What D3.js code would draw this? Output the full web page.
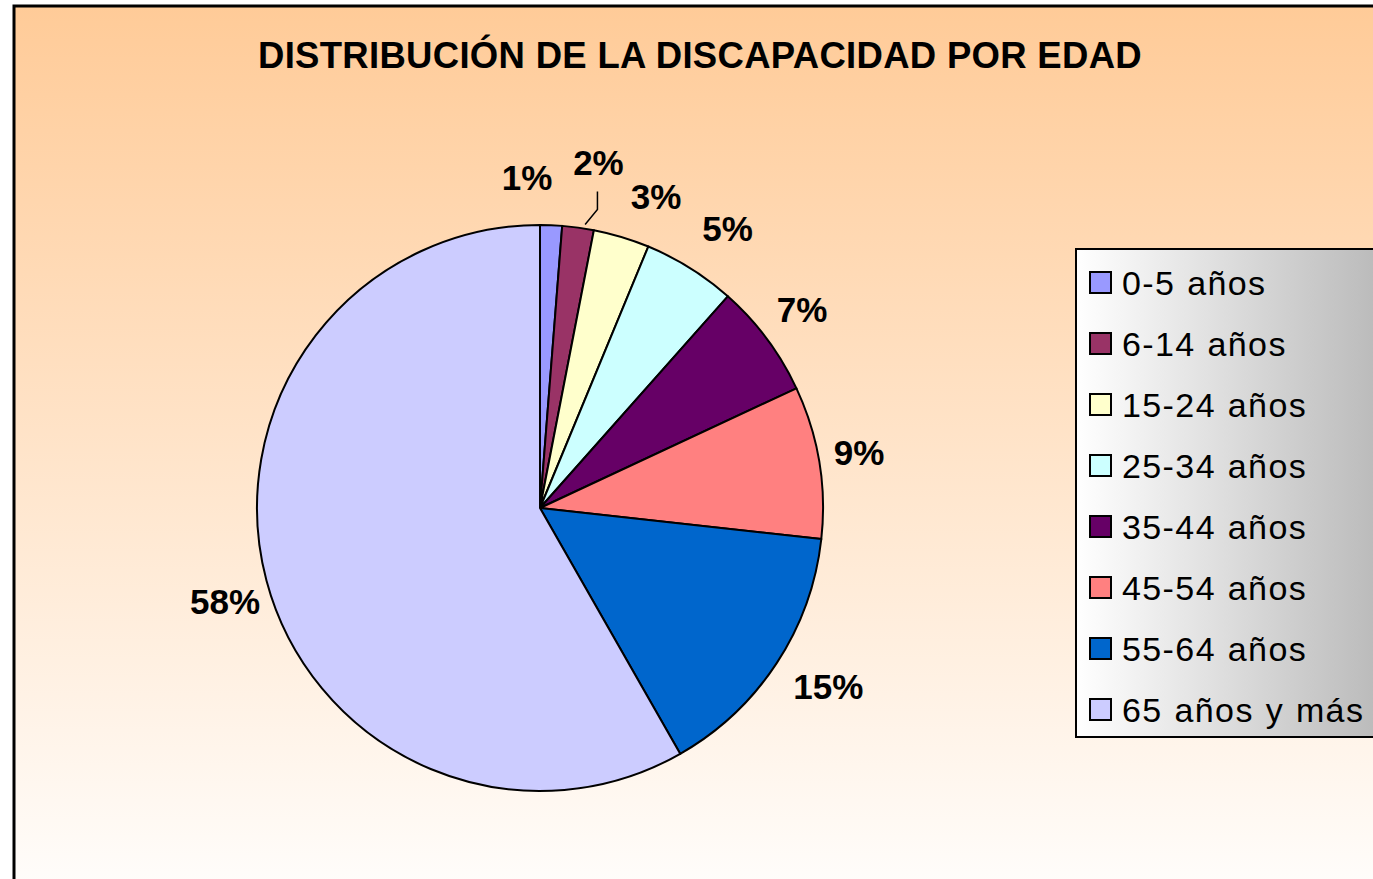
<!DOCTYPE html>
<html lang="es">
<head>
    <meta charset="UTF-8">
    <title>Distribución de la discapacidad por edad</title>
    <script src="https://d3js.org/d3.v7.min.js"></script>
    <style>
        html, body { margin: 0; padding: 0; background: #fff; }
        svg { display: block; font-family: Arial, "Liberation Sans", sans-serif; }
    </style>
</head>
<body>
    <svg width="1373" height="879"></svg>

    <script>
        // data
        const categories = ["0-5 años", "6-14 años", "15-24 años", "25-34 años",
                            "35-44 años", "45-54 años", "55-64 años", "65 años y más"];
        const shares = [1.25, 1.8, 3.2, 5.3, 6.5, 8.7, 15.0, 58.25];
        const pctLabels = ["1%", "2%", "3%", "5%", "7%", "9%", "15%", "58%"];
        const sliceColors = ["#9999FF", "#993366", "#FFFFCC", "#CCFFFF",
                             "#660066", "#FF8080", "#0066CC", "#CCCCFF"];

        const svg = d3.select("svg");
        const defs = svg.append("defs");

        // chart background gradient (peach -> white)
        const bg = defs.append("linearGradient")
            .attr("id", "bgGrad").attr("x1", 0).attr("y1", 0).attr("x2", 0).attr("y2", 1);
        bg.append("stop").attr("offset", "0%").attr("stop-color", "#FFCB98");
        bg.append("stop").attr("offset", "100%").attr("stop-color", "#FFFFFF");

        // legend gradient (white -> grey)
        const lg = defs.append("linearGradient")
            .attr("id", "legGrad").attr("x1", 0).attr("y1", 0).attr("x2", 1).attr("y2", 0);
        lg.append("stop").attr("offset", "0%").attr("stop-color", "#FFFFFF");
        lg.append("stop").attr("offset", "100%").attr("stop-color", "#BBBBBB");

        svg.append("rect")
            .attr("x", 14).attr("y", 6)
            .attr("width", 1420).attr("height", 920)
            .attr("fill", "url(#bgGrad)")
            .attr("stroke", "#000").attr("stroke-width", 3);

        svg.append("text")
            .attr("x", 700).attr("y", 68)
            .attr("text-anchor", "middle")
            .attr("font-size", 36.5).attr("font-weight", "bold")
            .attr("letter-spacing", "0.3px")
            .text("DISTRIBUCIÓN DE LA DISCAPACIDAD POR EDAD");

        // pie
        const cx = 540, cy = 508, r = 283;
        const pie = d3.pie().sort(null).value(d => d);
        const arcs = pie(shares);
        const arc = d3.arc().innerRadius(0).outerRadius(r);
        const labelArc = d3.arc().innerRadius(330).outerRadius(330);
        const edgeArc = d3.arc().innerRadius(r).outerRadius(r);

        const g = svg.append("g").attr("transform", `translate(${cx},${cy})`);

        g.selectAll("path.slice")
            .data(arcs)
            .join("path")
            .attr("class", "slice")
            .attr("d", arc)
            .attr("fill", (d, i) => sliceColors[i])
            .attr("stroke", "#000")
            .attr("stroke-width", 2)
            .attr("stroke-linejoin", "round");

        // Excel-style label placement: small shifts off the plain centroid
        const nudge = [[-26, -1], [14, -18.5], [21, 4.5], [12.5, 0],
                       [-2.5, -1.5], [-6.5, -2], [12.5, -2.5], [4, 8.5]];
        const labelPos = (d, i) => {
            const [x, y] = labelArc.centroid(d);
            return [x + nudge[i][0], y + nudge[i][1]];
        };

        // leader line for the 2% label
        const k = 1;
        const [lx, ly] = labelPos(arcs[k], k);
        const [ex, ey] = edgeArc.centroid(arcs[k]);
        g.append("polyline")
            .attr("points", `${lx - 1},${ly + 29} ${lx - 1},${ly + 47} ${ex + 7},${ey - 3}`)
            .attr("fill", "none")
            .attr("stroke", "#000")
            .attr("stroke-width", 1.5);

        g.selectAll("text.pct")
            .data(arcs)
            .join("text")
            .attr("class", "pct")
            .attr("x", (d, i) => labelPos(d, i)[0])
            .attr("y", (d, i) => labelPos(d, i)[1])
            .attr("dy", "0.36em")
            .attr("text-anchor", "middle")
            .attr("font-size", 35)
            .attr("font-weight", "bold")
            .text((d, i) => pctLabels[i]);

        // legend
        const legend = svg.append("g").attr("transform", "translate(1076,249)");
        legend.append("rect")
            .attr("width", 300).attr("height", 488)
            .attr("fill", "url(#legGrad)")
            .attr("stroke", "#000").attr("stroke-width", 2);

        const item = legend.selectAll("g.item")
            .data(categories)
            .join("g")
            .attr("class", "item")
            .attr("transform", (d, i) => `translate(0,${34 + i * 61})`);

        item.append("rect")
            .attr("x", 14).attr("y", -11)
            .attr("width", 21).attr("height", 21)
            .attr("fill", (d, i) => sliceColors[i])
            .attr("stroke", "#000").attr("stroke-width", 2);

        item.append("text")
            .attr("x", 46)
            .attr("dy", "0.36em")
            .attr("font-size", 34)
            .attr("letter-spacing", "1.4px")
            .attr("word-spacing", "1px")
            .text(d => d);
    </script>
</body>
</html>
